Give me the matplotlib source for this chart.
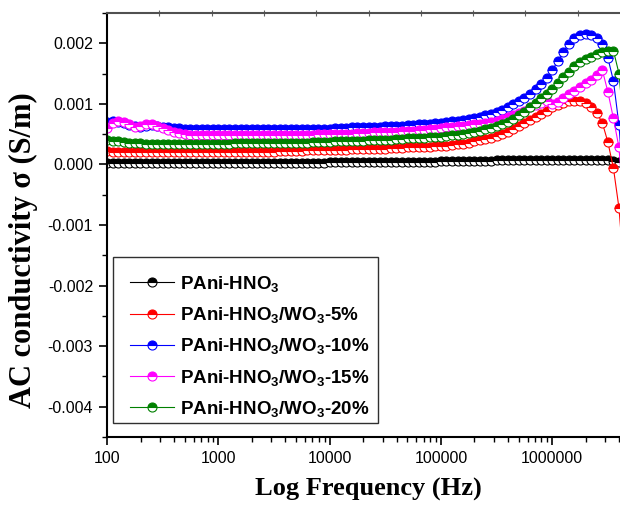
import matplotlib
matplotlib.use("Agg")
import matplotlib.pyplot as plt
from matplotlib.patches import Rectangle
from matplotlib.ticker import FixedLocator, NullLocator, NullFormatter

plt.rcParams['axes.unicode_minus'] = False
plt.rcParams['mathtext.fontset'] = 'custom'
plt.rcParams['mathtext.rm'] = 'Liberation Sans:bold'
plt.rcParams['mathtext.it'] = 'Liberation Sans:bold'
plt.rcParams['mathtext.bf'] = 'Liberation Sans:bold'

# frequency grid (Hz), 20 points per decade
freq = [100, 112.2, 125.9, 141.3, 158.5, 177.8, 199.5, 223.9, 251.2, 281.8,
        316.2, 354.8, 398.1, 446.7, 501.2, 562.3, 631.0, 707.9, 794.3, 891.3,
        1000, 1122, 1259, 1413, 1585, 1778, 1995, 2239, 2512, 2818,
        3162, 3548, 3981, 4467, 5012, 5623, 6310, 7079, 7943, 8913,
        1.0e4, 1.122e4, 1.259e4, 1.413e4, 1.585e4, 1.778e4, 1.995e4, 2.239e4, 2.512e4, 2.818e4,
        3.162e4, 3.548e4, 3.981e4, 4.467e4, 5.012e4, 5.623e4, 6.310e4, 7.079e4, 7.943e4, 8.913e4,
        1.0e5, 1.122e5, 1.259e5, 1.413e5, 1.585e5, 1.778e5, 1.995e5, 2.239e5, 2.512e5, 2.818e5,
        3.162e5, 3.548e5, 3.981e5, 4.467e5, 5.012e5, 5.623e5, 6.310e5, 7.079e5, 7.943e5, 8.913e5,
        1.0e6, 1.122e6, 1.259e6, 1.413e6, 1.585e6, 1.778e6, 1.995e6, 2.239e6, 2.512e6, 2.818e6,
        3.162e6, 3.548e6, 3.981e6, 4.467e6]

# AC conductivity in units of 1e-4 S/m
s_pure = [0.2, 0.2, 0.2, 0.2, 0.2, 0.2, 0.2, 0.2, 0.2, 0.2,
          0.2, 0.2, 0.2, 0.2, 0.2, 0.2, 0.2, 0.2, 0.2, 0.2,
          0.3, 0.3, 0.3, 0.3, 0.3, 0.3, 0.3, 0.3, 0.3, 0.3,
          0.3, 0.3, 0.3, 0.3, 0.3, 0.3, 0.3, 0.3, 0.3, 0.3,
          0.4, 0.4, 0.4, 0.4, 0.4, 0.4, 0.4, 0.4, 0.4, 0.4,
          0.4, 0.4, 0.4, 0.4, 0.4, 0.4, 0.4, 0.4, 0.4, 0.4,
          0.5, 0.5, 0.5, 0.5, 0.5, 0.6, 0.6, 0.6, 0.6, 0.6,
          0.7, 0.7, 0.7, 0.7, 0.7, 0.7, 0.7, 0.7, 0.7, 0.7,
          0.7, 0.8, 0.8, 0.8, 0.8, 0.8, 0.8, 0.8, 0.8, 0.8,
          0.7, 0.6, 0.4, 0.2]
s_5 = [2.2, 2.1, 2.0, 2.0, 2.0, 2.0, 2.0, 2.0, 2.0, 2.0,
       2.0, 2.0, 2.0, 2.0, 2.0, 2.0, 2.0, 2.0, 2.0, 2.0,
       2.0, 2.0, 2.0, 2.0, 2.1, 2.1, 2.1, 2.1, 2.1, 2.1,
       2.1, 2.2, 2.2, 2.2, 2.2, 2.2, 2.3, 2.3, 2.3, 2.3,
       2.3, 2.4, 2.4, 2.4, 2.5, 2.5, 2.5, 2.5, 2.6, 2.6,
       2.6, 2.7, 2.7, 2.7, 2.8, 2.8, 2.8, 2.9, 2.9, 3.0,
       3.0, 3.1, 3.2, 3.3, 3.4, 3.6, 3.8, 4.0, 4.2, 4.4,
       4.7, 5.0, 5.4, 5.8, 6.3, 6.8, 7.3, 7.9, 8.4, 8.9,
       9.4, 9.8, 10.1, 10.4, 10.5, 10.4, 10.1, 9.4, 8.5, 6.9,
       3.7, -0.6, -7.2, -18.7]
s_10 = [7.0, 7.2, 7.0, 6.8, 6.5, 6.3, 6.2, 6.4, 6.5, 6.3,
        6.2, 6.1, 6.0, 6.0, 5.9, 5.9, 5.9, 5.9, 5.9, 5.9,
        5.9, 5.9, 5.9, 5.9, 5.9, 5.9, 5.9, 5.9, 5.9, 5.9,
        5.9, 5.9, 5.9, 5.9, 5.9, 5.9, 5.9, 5.9, 5.9, 5.9,
        5.9, 6.0, 6.0, 6.0, 6.1, 6.1, 6.1, 6.2, 6.2, 6.2,
        6.3, 6.3, 6.4, 6.4, 6.5, 6.5, 6.6, 6.7, 6.7, 6.8,
        6.9, 7.0, 7.1, 7.2, 7.3, 7.5, 7.7, 7.9, 8.2, 8.4,
        8.7, 9.0, 9.4, 9.9, 10.4, 11.0, 11.6, 12.4, 13.2, 14.2,
        15.6, 17.0, 18.6, 19.9, 20.9, 21.4, 21.5, 21.3, 20.8, 19.8,
        17.6, 13.8, 6.5, -6.0]
s_15 = [6.0, 6.8, 7.2, 7.0, 6.6, 6.2, 6.3, 6.7, 6.6, 6.3,
        6.0, 5.7, 5.4, 5.2, 5.0, 4.9, 4.8, 4.8, 4.8, 4.8,
        4.8, 4.8, 4.8, 4.8, 4.8, 4.8, 4.8, 4.8, 4.8, 4.8,
        4.8, 4.8, 4.8, 4.8, 4.9, 4.9, 4.9, 4.9, 5.0, 5.0,
        5.0, 5.0, 5.1, 5.1, 5.1, 5.2, 5.2, 5.2, 5.3, 5.3,
        5.3, 5.4, 5.4, 5.5, 5.5, 5.6, 5.7, 5.7, 5.8, 5.9,
        6.0, 6.1, 6.2, 6.3, 6.4, 6.5, 6.6, 6.7, 6.9, 7.0,
        7.2, 7.5, 7.8, 8.1, 8.5, 8.9, 9.4, 9.8, 10.2, 10.5,
        10.0, 10.3, 10.9, 11.6, 12.2, 12.8, 13.4, 14.0, 14.8, 15.6,
        12.0, 7.6, 2.8, -9.0]
s_20 = [4.0, 3.9, 3.8, 3.7, 3.6, 3.5, 3.5, 3.4, 3.4, 3.4,
        3.4, 3.4, 3.4, 3.4, 3.4, 3.4, 3.4, 3.4, 3.4, 3.4,
        3.4, 3.4, 3.4, 3.5, 3.5, 3.5, 3.5, 3.5, 3.5, 3.5,
        3.5, 3.5, 3.6, 3.6, 3.6, 3.6, 3.6, 3.7, 3.7, 3.7,
        3.7, 3.8, 3.8, 3.8, 3.9, 3.9, 3.9, 4.0, 4.0, 4.0,
        4.1, 4.1, 4.2, 4.2, 4.3, 4.3, 4.4, 4.4, 4.5, 4.5,
        4.6, 4.7, 4.8, 4.9, 5.0, 5.2, 5.4, 5.6, 5.8, 6.0,
        6.3, 6.6, 7.0, 7.5, 8.1, 8.7, 9.5, 10.2, 10.9, 11.6,
        12.4, 13.4, 14.4, 15.3, 16.2, 16.9, 17.4, 17.8, 18.2, 18.5,
        18.7, 18.8, 15.0, 5.0]

labels = [r'PAni-HNO$_3$', r'PAni-HNO$_3$/WO$_3$-5%', r'PAni-HNO$_3$/WO$_3$-10%',
          r'PAni-HNO$_3$/WO$_3$-15%', r'PAni-HNO$_3$/WO$_3$-20%']
colors = ['#000000', '#ff0000', '#0000ff', '#ff00ff', '#008000']
series = [s_pure, s_5, s_10, s_15, s_20]

xticks = [100, 1000, 10000, 100000, 1000000]
yticks = [-0.004, -0.003, -0.002, -0.001, 0.0, 0.001, 0.002]
top_ticks = [295, 871, 2570, 7590, 22400, 66100, 195000, 575000, 1.70e6]

fig = plt.figure(figsize=(6.2, 5.05), dpi=100)
ax = fig.add_axes([107/620, 68/505, 523/620, 424/505])

for s, c, lab in zip(series, colors, labels):
    ax.plot(freq, [v * 1e-4 for v in s], '-', color=c, lw=0.8, marker='o',
            ms=6.5, mew=0.8, mec=c, mfc=c, fillstyle='top',
            markerfacecoloralt='white', label=lab)

ax.set_xscale('log')
ax.set_xlim(100, 5e6)
ax.set_ylim(-0.0045, 0.0025)

ax.xaxis.set_major_locator(FixedLocator(xticks))
ax.set_xticklabels([str(t) for t in xticks])
ax.yaxis.set_major_locator(FixedLocator(yticks))
ax.set_yticklabels([f'{t:.3f}' for t in yticks])
ax.yaxis.set_minor_locator(FixedLocator([t + 0.0005 for t in yticks] + [-0.0045]))

for lab in ax.get_xticklabels() + ax.get_yticklabels():
    lab.set_fontfamily('Liberation Sans')
    lab.set_fontsize(11.5)

ax.tick_params(which='major', direction='out', length=6, width=1.2, pad=4,
               top=False, right=False)
ax.tick_params(which='minor', direction='out', length=3.5, width=1.0,
               top=False, right=False)

for side in ['left', 'bottom']:
    ax.spines[side].set_linewidth(1.5)
ax.spines['top'].set_linewidth(1.5)
ax.spines['top'].set_color('#505050')
ax.spines['right'].set_visible(False)

sec = ax.secondary_xaxis('top')
sec.set_xticks(top_ticks)
sec.xaxis.set_minor_locator(NullLocator())
sec.xaxis.set_major_formatter(NullFormatter())
sec.tick_params(direction='inout', length=4, width=0.8, color='#606060')
sec.spines['top'].set_visible(False)

fig.text(368/620, 1 - 489/505, 'Log Frequency (Hz)', ha='center', va='center',
         fontfamily='Liberation Serif', fontweight='bold', fontsize=19)
fig.text(23/620, 1 - 250/505, 'AC conductivity σ (S/m)', ha='center', va='center',
         rotation=90, fontfamily='Liberation Serif', fontweight='bold', fontsize=22)

leg = ax.legend(loc='upper left', bbox_to_anchor=(113/620, 1 - 257/505),
                bbox_transform=fig.transFigure, numpoints=1, handlelength=2.35,
                handletextpad=0.3, borderpad=0.9, labelspacing=0.6,
                frameon=False, borderaxespad=0,
                prop={'family': 'Liberation Sans', 'weight': 'bold', 'size': 13.5})

# legend box drawn separately to match the reference frame
fig.patches.append(Rectangle((113/620, 1 - 423/505), 265/620, 166/505,
                             transform=fig.transFigure, fill=False,
                             edgecolor='#303030', linewidth=1.0, zorder=5))

fig.savefig('out.png', dpi=100)
